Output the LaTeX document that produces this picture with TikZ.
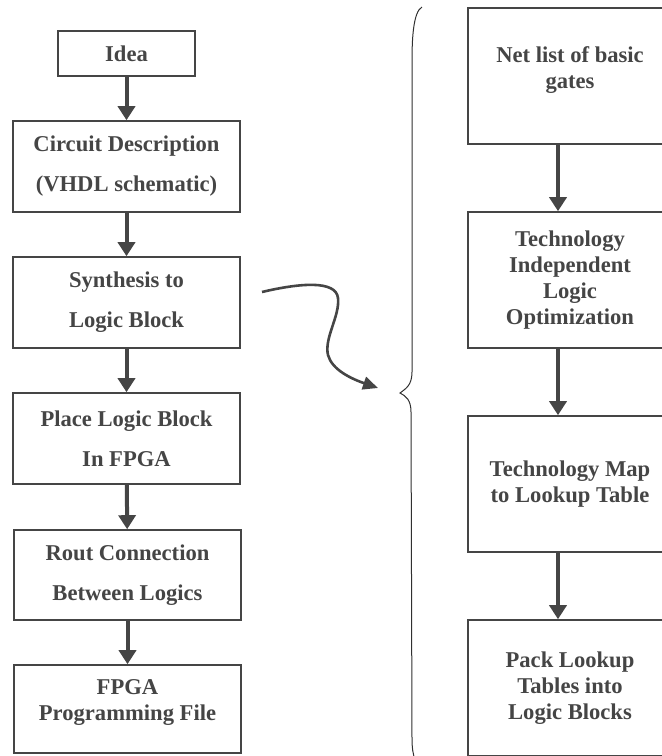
\documentclass[tikz,border=0pt]{standalone}
\usepackage{fontspec}
\setmainfont{Liberation Serif}
\usetikzlibrary{arrows.meta}
\definecolor{inkgray}{HTML}{454545}

\begin{document}
\begin{tikzpicture}[x=1pt, y=-1pt,
  box/.style={draw=inkgray, line width=1.6pt, text=inkgray, align=center, inner sep=0pt,
    font=\fontsize{22.6}{40}\selectfont\bfseries},
  rbox/.style={box, minimum width=204pt, minimum height=136pt,
    font=\fontsize{22.6}{26}\selectfont\bfseries},
  flow/.style={draw=inkgray, line width=4pt, -{Triangle[width=17pt,length=14pt]}}]
\useasboundingbox (0,0) rectangle (662,756);
\clip (0,0) rectangle (662,756);

% left column
\node[box, minimum width=137pt, minimum height=45pt] (idea) at (126.5,53.5) {Idea};
\node[box, minimum width=227pt, minimum height=91pt] (circ) at (126.5,166.5) {Circuit Description\\(VHDL schematic)};
\node[box, minimum width=227pt, minimum height=91pt] (synth) at (126.5,302.5) {Synthesis to\\Logic Block};
\node[box, minimum width=227pt, minimum height=91pt] (place) at (126.5,438.5) {Place Logic Block\\In FPGA};
\node[box, minimum width=227pt, minimum height=90pt] (rout) at (127.5,575) {Rout Connection\\Between Logics};
\node[box, minimum width=227pt, minimum height=88pt, text depth=17pt,
  font=\fontsize{22.6}{26}\selectfont\bfseries] (fpga) at (127.5,709) {FPGA\\Programming File};

\draw[flow] (idea) -- (circ);
\draw[flow] (circ) -- (synth);
\draw[flow] (synth) -- (place);
\draw[flow] (place) -- (rout);
\draw[flow] (rout) -- (fpga);

% right column
\node[rbox, text depth=17pt] (netlist) at (570,76) {Net list of basic\\gates};
\node[rbox] (tindep) at (570,280) {Technology\\Independent\\Logic\\Optimization};
\node[rbox] (tmap) at (570,484) {Technology Map\\to Lookup Table};
\node[rbox] (pack) at (570,688) {Pack Lookup\\Tables into\\Logic Blocks};

\draw[flow] ([xshift=-12pt]netlist.south) -- ([xshift=-12pt]tindep.north);
\draw[flow] ([xshift=-12pt]tindep.south) -- ([xshift=-12pt]tmap.north);
\draw[flow] ([xshift=-12pt]tmap.south) -- ([xshift=-12pt]pack.north);

% hand-drawn arrow and brace
\coordinate (wstart) at (262,292);
\coordinate (wend) at (378,388);
\draw[inkgray, line width=2.6pt, -{Triangle[width=13pt,length=15pt]}]
  (wstart) .. controls (300,283) and (336,280) .. (338,298)
  .. controls (340,316) and (324,338) .. (328,355)
  .. controls (332,370) and (352,379) .. (wend);
\draw[inkgray!70!black, line width=1pt]
  (422,7) .. controls (413,12) and (412,40) .. (412,62) -- (412,372)
  .. controls (412,386) and (405,389) .. (400,393)
  .. controls (406,396) and (411,400) .. (411,412) -- (412,738)
  .. controls (412,748) and (413,754) .. (415,760);
\end{tikzpicture}
\end{document}
